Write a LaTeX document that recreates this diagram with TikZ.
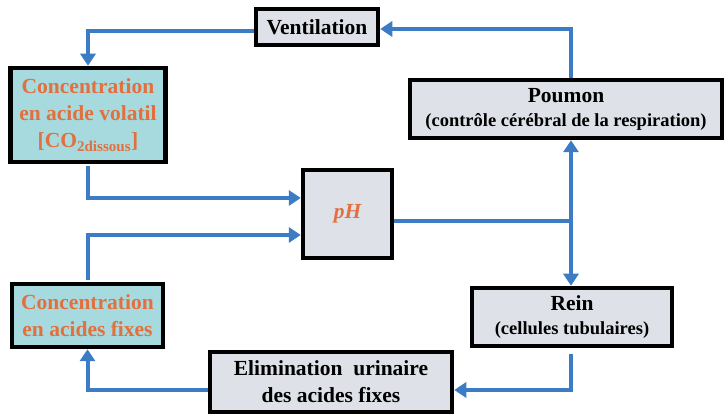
\documentclass[tikz,border=0pt]{standalone}
\usepackage{fontspec}
\setmainfont{Liberation Serif}
\usetikzlibrary{arrows.meta,positioning}
\definecolor{steel}{RGB}{59,124,196}
\definecolor{mist}{RGB}{222,226,232}
\definecolor{aqua}{RGB}{166,218,222}
\definecolor{rust}{RGB}{226,112,62}
\tikzset{
  >={Triangle[length=12pt,width=15pt]},
  box/.style={draw=black,fill=#1,line width=4.5pt,inner sep=0pt,align=center,
    font=\fontsize{21.5}{27}\selectfont\bfseries},
  box/.default=mist,
  hot/.style={box=aqua,text=rust},
  flow/.style={->,line width=4pt,draw=steel},
}
\begin{document}
\begin{tikzpicture}[x=1pt,y=-1pt]
  \useasboundingbox (0,0) rectangle (724,414);
  % boxes
  \node[box,minimum width=122,minimum height=36] (vent) at (317,27) {Ventilation};
  \node[hot,minimum width=155,minimum height=94] (cvol) at (88,115)
    {Concentration\\en acide volatil\\{[CO\textsubscript{2dissous}]}};
  \node[box,minimum width=312,minimum height=58] (pou) at (566,109)
    {Poumon\\[-3pt]{\fontsize{18.5}{20}\selectfont(contrôle cérébral de la respiration)}};
  \node[box,minimum width=89,minimum height=88,text=rust] (ph) at (347.5,214) {\itshape pH};
  \node[box,minimum width=200,minimum height=58] (rein) at (572,317)
    {Rein\\[-3pt]{\fontsize{18.5}{20}\selectfont(cellules tubulaires)}};
  \node[hot,minimum width=151,minimum height=63] (cfix) at (87.5,315.5)
    {Concentration\\en acides fixes};
  \node[box,minimum width=242,minimum height=60] (elim) at (331,382)
    {Elimination~~urinaire\\des acides fixes};
  \coordinate (jn) at (571,221);
  % connectors
  \draw[flow] ([yshift=-4pt]vent.west) -| (cvol.north);
  \draw[flow] (jn|-pou.north) |- ([yshift=-2pt]vent.east);
  \draw[flow] (ph.east|-jn) -- (jn) -- (jn|-rein.north);
  \draw[flow] (jn) -- (jn|-pou.south);
  \draw[flow,shorten <=6pt] (jn|-rein.south) |- ([yshift=-8pt]elim.east);
  \draw[flow] ([yshift=-8pt]elim.west) -| (cfix.south);
  \draw[flow,shorten <=2pt] (cvol.south) |- ([yshift=16pt]ph.west);
  \draw[flow,shorten <=2pt] (cfix.north) |- ([yshift=-21pt]ph.west);
\end{tikzpicture}
\end{document}
